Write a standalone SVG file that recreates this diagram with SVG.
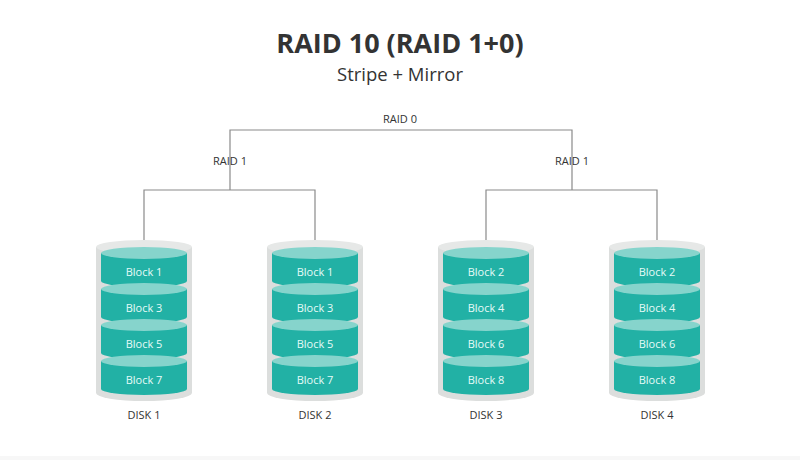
<svg xmlns="http://www.w3.org/2000/svg" width="800" height="460" viewBox="0 0 800 460">
<defs>
<style>
.title{font-family:"Open Sans","Liberation Sans",sans-serif;font-weight:bold;font-size:27px;fill:#333;text-anchor:middle}
.sub{font-family:"Open Sans","Liberation Sans",sans-serif;font-size:18.5px;fill:#333;text-anchor:middle}
.lbl{font-family:"Open Sans","Liberation Sans",sans-serif;font-size:11px;fill:#333;text-anchor:middle}
.blk{font-family:"Open Sans","Liberation Sans",sans-serif;font-size:11px;fill:#e6fbf8;text-anchor:middle}
.wire{fill:none;stroke:#8a8a8a;stroke-width:1.2}
.case{fill:#dcdedd}
.caseTop{fill:#e6e8e7}
.body{fill:#22b1a5}
.top{fill:#86d4cc}
</style>
<g id="disk">
<path class="case" d="M-48,247 L-48,393 A48,8 0 0 0 48,393 L48,247 Z"/>
<ellipse class="caseTop" cx="0" cy="247" rx="48" ry="7"/>
<g id="blockShape">
<path class="body" d="M-43,253 L-43,281 A43,6 0 0 0 43,281 L43,253 Z"/>
<ellipse class="top" cx="0" cy="253" rx="43" ry="6"/>
</g>
<use href="#blockShape" y="36"/>
<use href="#blockShape" y="72"/>
<use href="#blockShape" y="108"/>
</g>
</defs>
<rect width="800" height="460" fill="#fff"/>
<rect x="0" y="456" width="800" height="4" fill="#f7f7f7"/>
<text class="title" x="400" y="53">RAID 10 (RAID 1+0)</text>
<text class="sub" x="400" y="81">Stripe + Mirror</text>
<g id="connectors">
<path class="wire" d="M230,190 L230,130 L572,130 L572,190"/>
<path class="wire" d="M144,246 L144,190 L315,190 L315,246"/>
<path class="wire" d="M486,246 L486,190 L657,190 L657,246"/>
</g>
<g id="raid0"><text class="lbl" x="400" y="123">RAID 0</text></g>
<g id="raid1-left"><text class="lbl" x="230" y="165">RAID 1</text></g>
<g id="raid1-right"><text class="lbl" x="572" y="165">RAID 1</text></g>
<g id="disk1" transform="translate(144,0)">
<use href="#disk"/>
<text class="blk" x="0" y="276">Block 1</text>
<text class="blk" x="0" y="312">Block 3</text>
<text class="blk" x="0" y="348">Block 5</text>
<text class="blk" x="0" y="384">Block 7</text>
<text class="lbl" x="0" y="419">DISK 1</text>
</g>
<g id="disk2" transform="translate(315,0)">
<use href="#disk"/>
<text class="blk" x="0" y="276">Block 1</text>
<text class="blk" x="0" y="312">Block 3</text>
<text class="blk" x="0" y="348">Block 5</text>
<text class="blk" x="0" y="384">Block 7</text>
<text class="lbl" x="0" y="419">DISK 2</text>
</g>
<g id="disk3" transform="translate(486,0)">
<use href="#disk"/>
<text class="blk" x="0" y="276">Block 2</text>
<text class="blk" x="0" y="312">Block 4</text>
<text class="blk" x="0" y="348">Block 6</text>
<text class="blk" x="0" y="384">Block 8</text>
<text class="lbl" x="0" y="419">DISK 3</text>
</g>
<g id="disk4" transform="translate(657,0)">
<use href="#disk"/>
<text class="blk" x="0" y="276">Block 2</text>
<text class="blk" x="0" y="312">Block 4</text>
<text class="blk" x="0" y="348">Block 6</text>
<text class="blk" x="0" y="384">Block 8</text>
<text class="lbl" x="0" y="419">DISK 4</text>
</g>
</svg>
